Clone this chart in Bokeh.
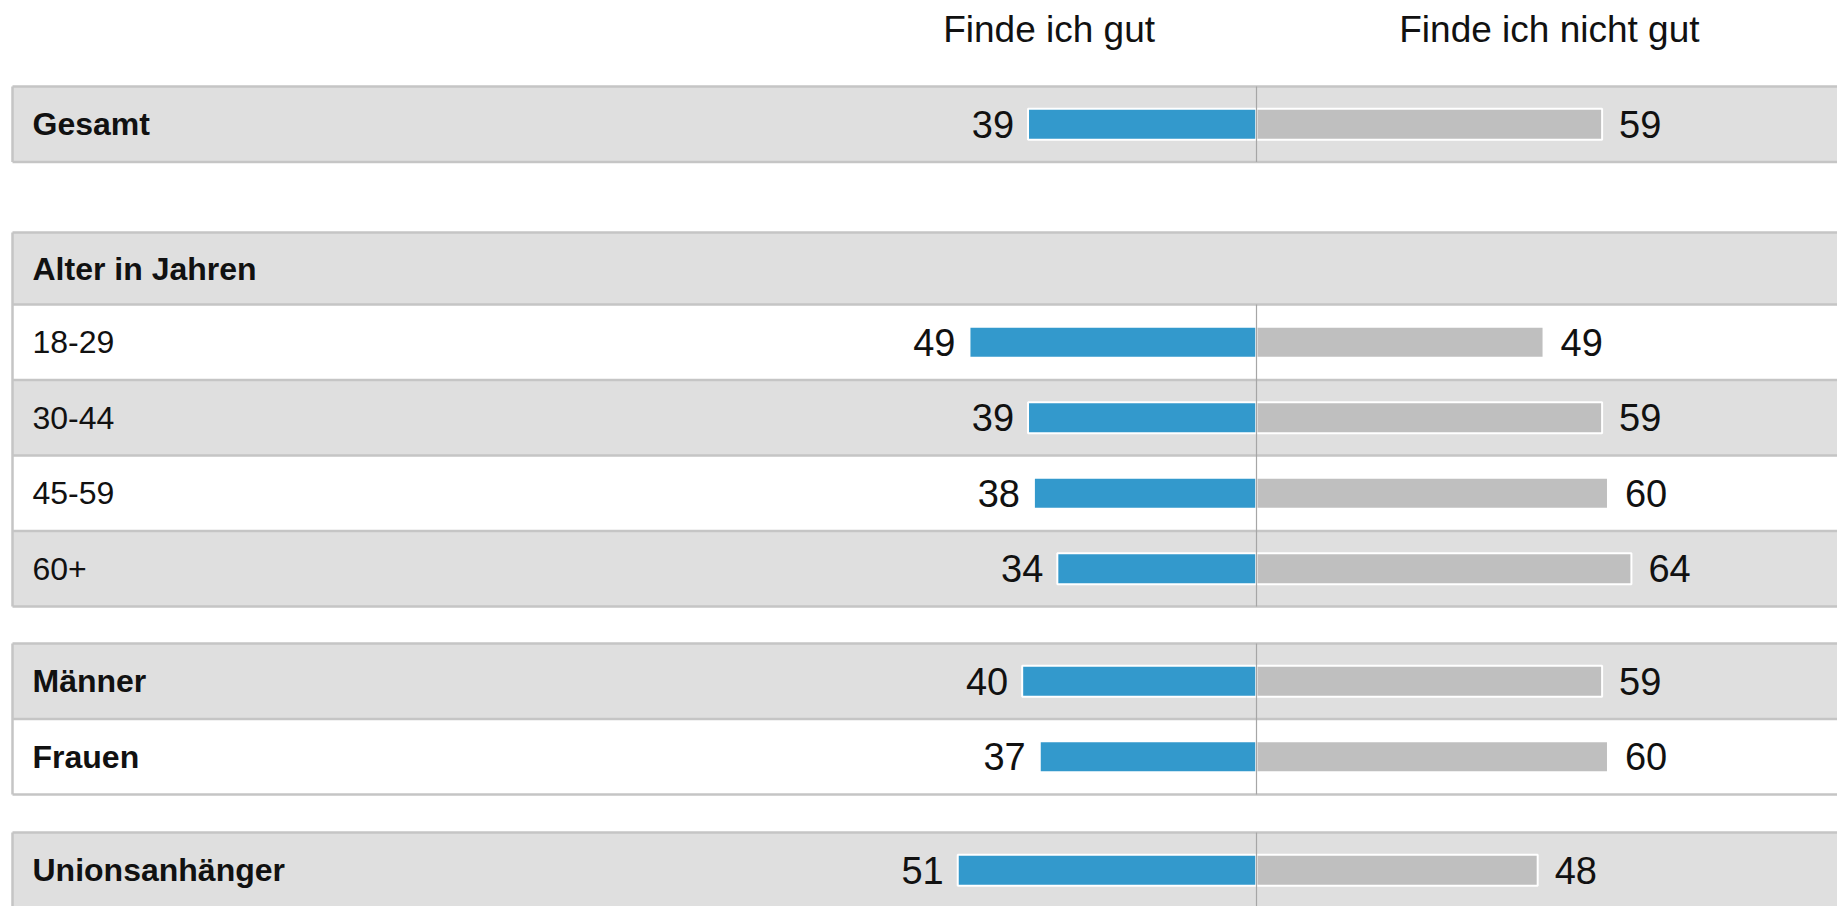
from bokeh.plotting import figure
from bokeh.models import Range1d, ColumnDataSource
from bokeh.core.properties import value
from bokeh.embed import file_html
from bokeh.resources import INLINE

# ---------------- data ----------------
categories = ["Gesamt", "18-29", "30-44", "45-59", "60+", "Männer", "Frauen", "Unionsanhänger"]
finde_gut = [39, 49, 39, 38, 34, 40, 37, 51]
finde_nicht_gut = [59, 49, 59, 60, 64, 59, 60, 48]
bold_labels = [True, False, False, False, False, True, True, True]
section_header = "Alter in Jahren"
col_headers = ["Finde ich gut", "Finde ich nicht gut"]

# group structure: indices into categories, "H" = section header row
groups = [[0], ["H", 1, 2, 3, 4], [5, 6], [7]]

# ---------------- layout ----------------
W, H = 1837, 906
PX_PER_UNIT = 5.858
CENTER_PX = 1256.0          # frame px of the zero line
X0 = -CENTER_PX / PX_PER_UNIT
X1 = (W - CENTER_PX) / PX_PER_UNIT
BAND_LEFT = (12.0 - CENTER_PX) / PX_PER_UNIT
ROW_H = 75.5
HEAD_H = 72.0
BAR_H = 31.0
GAPS = [70.5, 37.0, 38.0]
FIRST_TOP = 86.0

GRAY_BG = "#dfdfdf"
LINE_C = "#c5c5c5"
BLUE = "#3399cc"
GREY_BAR = "#bfbfbf"
TXT = "#111111"
FONT = value("Liberation Sans")

rows_top, rows_bot, rows_fill = [], [], []
hlines_y = []
vleft = []          # (top, bottom) of each group
center_segs = []    # (top, bottom)
data_y = [None] * len(categories)
header_y = None

y = FIRST_TOP
for gi, g in enumerate(groups):
    gtop = y
    first_data_top = None
    hlines_y.append(y)
    for k, r in enumerate(g):
        h = HEAD_H if r == "H" else ROW_H
        rows_top.append(y)
        rows_bot.append(y + h)
        rows_fill.append(GRAY_BG if k % 2 == 0 else "#ffffff")
        if r == "H":
            header_y = y + h / 2
        else:
            data_y[r] = y + h / 2
            if first_data_top is None:
                first_data_top = y
        y += h
        hlines_y.append(y)
    vleft.append((gtop, y))
    center_segs.append((first_data_top, y))
    if gi < len(GAPS):
        y += GAPS[gi]

p = figure(width=W, height=H, x_range=Range1d(X0, X1), y_range=Range1d(H, 0),
           output_backend="svg", toolbar_location=None, min_border=0,
           x_axis_location=None, y_axis_location=None)
p.outline_line_color = None
p.xgrid.visible = False
p.ygrid.visible = False
p.background_fill_color = "white"
p.border_fill_color = "white"

# row bands
p.quad(left=[BAND_LEFT] * len(rows_top), right=[X1 + 5] * len(rows_top),
       top=rows_top, bottom=rows_bot, fill_color=rows_fill, line_color=None)

# horizontal row lines
p.segment(x0=[BAND_LEFT] * len(hlines_y), x1=[X1 + 5] * len(hlines_y),
          y0=hlines_y, y1=hlines_y, line_color=LINE_C, line_width=2.5)
# left border of each group
p.segment(x0=[BAND_LEFT] * len(vleft), x1=[BAND_LEFT] * len(vleft),
          y0=[a for a, b in vleft], y1=[b for a, b in vleft],
          line_color=LINE_C, line_width=2.5)

src = ColumnDataSource(dict(
    y=data_y, good=finde_gut, bad=finde_nicht_gut,
    neg_good=[-v for v in finde_gut],
    good_lbl=[str(v) for v in finde_gut],
    bad_lbl=[str(v) for v in finde_nicht_gut],
))

p.hbar(y="y", left="neg_good", right=0, height=BAR_H, source=src,
       fill_color=BLUE, line_color="white", line_width=2)
p.hbar(y="y", left=0, right="bad", height=BAR_H, source=src,
       fill_color=GREY_BAR, line_color="white", line_width=2)

# center line
p.segment(x0=[0] * len(center_segs), x1=[0] * len(center_segs),
          y0=[a for a, b in center_segs], y1=[b for a, b in center_segs],
          line_color="#a6a6a6", line_width=1.2)

# value labels
p.text(x="neg_good", y="y", text="good_lbl", source=src, x_offset=-14,
       text_align="right", text_baseline="middle", text_font=FONT,
       text_font_size=value("38px"), text_color=TXT)
p.text(x="bad", y="y", text="bad_lbl", source=src, x_offset=17,
       text_align="left", text_baseline="middle", text_font=FONT,
       text_font_size=value("38px"), text_color=TXT)

# row labels
bold_y = [data_y[i] for i in range(len(categories)) if bold_labels[i]] + [header_y]
bold_t = [categories[i] for i in range(len(categories)) if bold_labels[i]] + [section_header]
reg_y = [data_y[i] for i in range(len(categories)) if not bold_labels[i]]
reg_t = [categories[i] for i in range(len(categories)) if not bold_labels[i]]
p.text(x=[BAND_LEFT] * len(bold_y), y=bold_y, text=bold_t, x_offset=20,
       text_align="left", text_baseline="middle", text_font=FONT,
       text_font_style="bold", text_font_size=value("32px"), text_color=TXT)
p.text(x=[BAND_LEFT] * len(reg_y), y=reg_y, text=reg_t, x_offset=20,
       text_align="left", text_baseline="middle", text_font=FONT,
       text_font_size=value("32px"), text_color=TXT)

# column headers
p.text(x=[-35.4, 50.0], y=[29, 29], text=col_headers,
       text_align="center", text_baseline="middle", text_font=FONT,
       text_font_size=value("37px"), text_color=TXT)

open("out.html", "w").write(file_html(p, INLINE))
